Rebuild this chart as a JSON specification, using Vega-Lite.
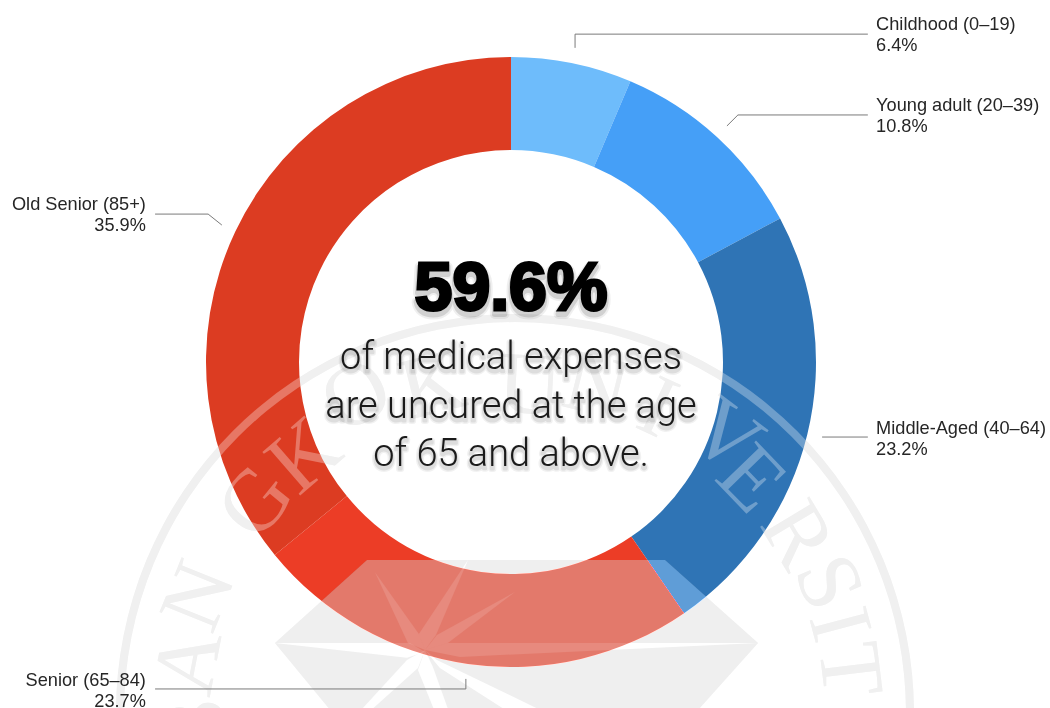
{
  "$schema": "https://vega.github.io/schema/vega-lite/v6.json",
  "width": 1050,
  "height": 708,
  "padding": 0,
  "autosize": "none",
  "background": "#ffffff",
  "view": {"stroke": null},
  "datasets": {
    "segments": [
      {"group": "Childhood (0–19)", "share": 0.064, "rank": 1, "x": 0, "y": 0},
      {"group": "Young adult (20–39)", "share": 0.108, "rank": 2, "x": 0, "y": 0},
      {"group": "Middle-Aged (40–64)", "share": 0.232, "rank": 3, "x": 0, "y": 0},
      {"group": "Senior (65–84)", "share": 0.237, "rank": 4, "x": 0, "y": 0},
      {"group": "Old Senior (85+)", "share": 0.359, "rank": 5, "x": 0, "y": 0}
    ],
    "labelsRight": [
      {"x": 1.197, "y": 1.089, "line": "Childhood (0–19)"},
      {"x": 1.197, "y": 1.02, "line": "6.4%"},
      {"x": 1.197, "y": 0.823, "line": "Young adult (20–39)"},
      {"x": 1.197, "y": 0.754, "line": "10.8%"},
      {"x": 1.197, "y": -0.236, "line": "Middle-Aged (40–64)"},
      {"x": 1.197, "y": -0.305, "line": "23.2%"}
    ],
    "labelsLeft": [
      {"x": -1.197, "y": 0.498, "line": "Old Senior (85+)"},
      {"x": -1.197, "y": 0.43, "line": "35.9%"},
      {"x": -1.197, "y": -1.062, "line": "Senior (65–84)"},
      {"x": -1.197, "y": -1.131, "line": "23.7%"}
    ],
    "leaders": [
      {"id": "childhood", "seq": 1, "x": 0.21, "y": 1.03},
      {"id": "childhood", "seq": 2, "x": 0.21, "y": 1.075},
      {"id": "childhood", "seq": 3, "x": 1.17, "y": 1.075},
      {"id": "young", "seq": 1, "x": 0.708, "y": 0.774},
      {"id": "young", "seq": 2, "x": 0.744, "y": 0.81},
      {"id": "young", "seq": 3, "x": 1.17, "y": 0.81},
      {"id": "middle", "seq": 1, "x": 1.02, "y": -0.246},
      {"id": "middle", "seq": 2, "x": 1.17, "y": -0.246},
      {"id": "senior", "seq": 1, "x": -1.167, "y": -1.072},
      {"id": "senior", "seq": 2, "x": -0.148, "y": -1.072},
      {"id": "senior", "seq": 3, "x": -0.148, "y": -1.039},
      {"id": "old", "seq": 1, "x": -1.167, "y": 0.485},
      {"id": "old", "seq": 2, "x": -0.993, "y": 0.485},
      {"id": "old", "seq": 3, "x": -0.948, "y": 0.449}
    ],
    "headline": [{"x": 0, "y": 0.17, "line": "59.6%"}],
    "body": [
      {"x": 0, "y": -0.023, "line": "of medical expenses"},
      {"x": 0, "y": -0.184, "line": "are uncured at the age"},
      {"x": 0, "y": -0.341, "line": "of 65 and above."}
    ],
    "sealRing": [{"x": 0.013, "y": -1.151}],
    "sealLetters": [
      {"x": -1.026, "y": -1.2, "glyph": "B", "tilt": -90},
      {"x": -1.052, "y": -0.984, "glyph": "A", "tilt": -79},
      {"x": -1.02, "y": -0.77, "glyph": "N", "tilt": -68},
      {"x": -0.833, "y": -0.462, "glyph": "G", "tilt": -51},
      {"x": -0.675, "y": -0.311, "glyph": "K", "tilt": -41},
      {"x": -0.505, "y": -0.115, "glyph": "O", "tilt": -27},
      {"x": -0.256, "y": -0.082, "glyph": "K", "tilt": -14},
      {"x": 0.062, "y": -0.082, "glyph": "U", "tilt": 3},
      {"x": 0.279, "y": -0.085, "glyph": "N", "tilt": 14},
      {"x": 0.479, "y": -0.154, "glyph": "I", "tilt": 25},
      {"x": 0.702, "y": -0.246, "glyph": "V", "tilt": 37},
      {"x": 0.784, "y": -0.387, "glyph": "E", "tilt": 46},
      {"x": 0.934, "y": -0.57, "glyph": "R", "tilt": 59},
      {"x": 1.036, "y": -0.725, "glyph": "S", "tilt": 67},
      {"x": 1.072, "y": -0.862, "glyph": "I", "tilt": 75},
      {"x": 1.105, "y": -1.01, "glyph": "T", "tilt": 83}
    ],
    "sealPlate": [
      {"part": "plate", "seq": 1, "x": -0.774, "y": -0.921},
      {"part": "plate", "seq": 2, "x": -0.472, "y": -0.649},
      {"part": "plate", "seq": 3, "x": 0.505, "y": -0.649},
      {"part": "plate", "seq": 4, "x": 0.81, "y": -0.921},
      {"part": "plate", "seq": 5, "x": 0.607, "y": -1.148},
      {"part": "plate", "seq": 6, "x": -0.587, "y": -1.148}
    ],
    "sealStar": [
      {"part": "west", "seq": 1, "x": -0.774, "y": -0.921},
      {"part": "west", "seq": 2, "x": -0.331, "y": -0.921},
      {"part": "west", "seq": 3, "x": -0.282, "y": -0.951},
      {"part": "west", "seq": 4, "x": -0.341, "y": -0.97},
      {"part": "northwest", "seq": 1, "x": -0.446, "y": -0.689},
      {"part": "northwest", "seq": 2, "x": -0.302, "y": -0.892},
      {"part": "northwest", "seq": 3, "x": -0.282, "y": -0.944},
      {"part": "northwest", "seq": 4, "x": -0.338, "y": -0.921},
      {"part": "north", "seq": 1, "x": -0.141, "y": -0.649},
      {"part": "north", "seq": 2, "x": -0.246, "y": -0.895},
      {"part": "north", "seq": 3, "x": -0.282, "y": -0.944},
      {"part": "north", "seq": 4, "x": -0.302, "y": -0.892},
      {"part": "northeast", "seq": 1, "x": 0.013, "y": -0.754},
      {"part": "northeast", "seq": 2, "x": -0.207, "y": -0.921},
      {"part": "northeast", "seq": 3, "x": -0.282, "y": -0.944},
      {"part": "northeast", "seq": 4, "x": -0.243, "y": -0.895},
      {"part": "east", "seq": 1, "x": 0.81, "y": -0.921},
      {"part": "east", "seq": 2, "x": -0.207, "y": -0.921},
      {"part": "east", "seq": 3, "x": -0.282, "y": -0.944},
      {"part": "east", "seq": 4, "x": -0.167, "y": -0.967},
      {"part": "southeast", "seq": 1, "x": -0.282, "y": -0.944},
      {"part": "southeast", "seq": 2, "x": -0.243, "y": -0.977},
      {"part": "southeast", "seq": 3, "x": 0.111, "y": -1.148},
      {"part": "southeast", "seq": 4, "x": -0.007, "y": -1.148},
      {"part": "southeast", "seq": 5, "x": -0.233, "y": -1.003},
      {"part": "south", "seq": 1, "x": -0.282, "y": -0.944},
      {"part": "south", "seq": 2, "x": -0.305, "y": -1.01},
      {"part": "south", "seq": 3, "x": -0.249, "y": -1.148},
      {"part": "south", "seq": 4, "x": -0.203, "y": -1.148},
      {"part": "south", "seq": 5, "x": -0.256, "y": -1.0},
      {"part": "southwest", "seq": 1, "x": -0.282, "y": -0.944},
      {"part": "southwest", "seq": 2, "x": -0.341, "y": -0.977},
      {"part": "southwest", "seq": 3, "x": -0.498, "y": -1.148},
      {"part": "southwest", "seq": 4, "x": -0.466, "y": -1.148},
      {"part": "southwest", "seq": 5, "x": -0.305, "y": -1.003}
    ]
  },
  "encoding": {
    "x": {"field": "x", "type": "quantitative", "axis": null, "scale": {"domain": [-1.6754, 1.7672], "nice": false, "zero": false}},
    "y": {"field": "y", "type": "quantitative", "axis": null, "scale": {"domain": [-1.1344, 1.1869], "nice": false, "zero": false}}
  },
  "layer": [
    {
      "description": "Seal plate beneath the ring",
      "data": {"name": "sealPlate"},
      "mark": {"type": "line", "interpolate": "linear-closed", "fill": "#e9e9e9", "stroke": null},
      "encoding": {"detail": {"field": "part"}, "order": {"field": "seq", "type": "quantitative"}}
    },
    {
      "description": "Star cut-outs in the plate",
      "data": {"name": "sealStar"},
      "mark": {"type": "line", "interpolate": "linear-closed", "fill": "#ffffff", "stroke": null},
      "encoding": {"detail": {"field": "part"}, "order": {"field": "seq", "type": "quantitative"}}
    },
    {
      "description": "Seal circle",
      "data": {"name": "sealRing"},
      "mark": {"type": "arc", "theta": 0, "theta2": 6.2832, "radius": 399, "radius2": 391, "fill": "#e9e9e9"}
    },
    {
      "description": "Seal lettering",
      "data": {"name": "sealLetters"},
      "mark": {"type": "text", "font": "Liberation Serif", "fontSize": 88, "align": "center", "baseline": "middle", "fill": "#e9e9e9"},
      "encoding": {"text": {"field": "glyph"}, "angle": {"field": "tilt", "type": "quantitative", "scale": null}}
    },
    {
      "description": "Age-group ring",
      "data": {"name": "segments"},
      "mark": {"type": "arc", "radius": 305, "radius2": 212},
      "encoding": {
        "theta": {"field": "share", "type": "quantitative", "stack": true},
        "order": {"field": "rank", "type": "quantitative"},
        "color": {
          "field": "group",
          "type": "nominal",
          "legend": null,
          "scale": {
            "domain": ["Childhood (0–19)", "Young adult (20–39)", "Middle-Aged (40–64)", "Senior (65–84)", "Old Senior (85+)"],
            "range": ["#6ebcfb", "#459ff7", "#2f74b5", "#ec3d26", "#dc3c22"]
          }
        }
      }
    },
    {
      "description": "Seal plate lightening the ring",
      "data": {"name": "sealPlate"},
      "mark": {"type": "line", "interpolate": "linear-closed", "fill": "#474747", "stroke": null, "blend": "screen"},
      "encoding": {"detail": {"field": "part"}, "order": {"field": "seq", "type": "quantitative"}}
    },
    {
      "description": "Seal plate muting the ring",
      "data": {"name": "sealPlate"},
      "mark": {"type": "line", "interpolate": "linear-closed", "fill": "#c34b4b", "stroke": null, "blend": "saturation"},
      "encoding": {"detail": {"field": "part"}, "order": {"field": "seq", "type": "quantitative"}}
    },
    {
      "description": "Star over the ring",
      "data": {"name": "sealStar"},
      "mark": {"type": "line", "interpolate": "linear-closed", "fill": "#202020", "stroke": null, "blend": "screen"},
      "encoding": {"detail": {"field": "part"}, "order": {"field": "seq", "type": "quantitative"}}
    },
    {
      "description": "Seal circle over the ring",
      "data": {"name": "sealRing"},
      "mark": {"type": "arc", "theta": 0, "theta2": 6.2832, "radius": 399, "radius2": 391, "fill": "#4d4d4d", "blend": "screen"}
    },
    {
      "description": "Seal lettering over the ring",
      "data": {"name": "sealLetters"},
      "mark": {"type": "text", "font": "Liberation Serif", "fontSize": 88, "align": "center", "baseline": "middle", "fill": "#4d4d4d", "blend": "screen"},
      "encoding": {"text": {"field": "glyph"}, "angle": {"field": "tilt", "type": "quantitative", "scale": null}}
    },
    {
      "description": "Leader lines",
      "data": {"name": "leaders"},
      "mark": {"type": "line", "stroke": "#7a7a7a", "strokeWidth": 1},
      "encoding": {"detail": {"field": "id"}, "order": {"field": "seq", "type": "quantitative"}}
    },
    {
      "data": {"name": "labelsRight"},
      "mark": {"type": "text", "font": "Liberation Sans", "fontSize": 18.2, "align": "left", "baseline": "alphabetic", "fill": "#262626"},
      "encoding": {"text": {"field": "line"}}
    },
    {
      "data": {"name": "labelsLeft"},
      "mark": {"type": "text", "font": "Liberation Sans", "fontSize": 18.2, "align": "right", "baseline": "alphabetic", "fill": "#262626"},
      "encoding": {"text": {"field": "line"}}
    },
    {
      "description": "Soft shadow behind the headline, widest pass",
      "data": {"name": "headline"},
      "mark": {"type": "text", "font": "Liberation Sans", "fontWeight": "bold", "fontSize": 68, "align": "center", "baseline": "alphabetic", "dy": 4, "fill": "#000000", "stroke": "#000000", "strokeWidth": 10, "strokeJoin": "round", "opacity": 0.06},
      "encoding": {"text": {"field": "line"}}
    },
    {
      "data": {"name": "headline"},
      "mark": {"type": "text", "font": "Liberation Sans", "fontWeight": "bold", "fontSize": 68, "align": "center", "baseline": "alphabetic", "dy": 4, "fill": "#000000", "stroke": "#000000", "strokeWidth": 6, "strokeJoin": "round", "opacity": 0.12},
      "encoding": {"text": {"field": "line"}}
    },
    {
      "data": {"name": "headline"},
      "mark": {"type": "text", "font": "Liberation Sans", "fontWeight": "bold", "fontSize": 68, "align": "center", "baseline": "alphabetic", "fill": "#000000", "stroke": "#000000", "strokeWidth": 3},
      "encoding": {"text": {"field": "line"}}
    },
    {
      "description": "Soft shadow behind the sentence",
      "data": {"name": "body"},
      "mark": {"type": "text", "font": "Roboto", "fontWeight": 300, "fontSize": 38, "align": "center", "baseline": "alphabetic", "dy": 3, "fill": "#000000", "stroke": "#000000", "strokeWidth": 6, "strokeJoin": "round", "opacity": 0.05},
      "encoding": {"text": {"field": "line"}}
    },
    {
      "data": {"name": "body"},
      "mark": {"type": "text", "font": "Roboto", "fontWeight": 300, "fontSize": 38, "align": "center", "baseline": "alphabetic", "dy": 3, "fill": "#000000", "stroke": "#000000", "strokeWidth": 3, "strokeJoin": "round", "opacity": 0.08},
      "encoding": {"text": {"field": "line"}}
    },
    {
      "data": {"name": "body"},
      "mark": {"type": "text", "font": "Roboto", "fontWeight": 300, "fontSize": 38, "align": "center", "baseline": "alphabetic", "fill": "#1a1a1a"},
      "encoding": {"text": {"field": "line"}}
    }
  ]
}
